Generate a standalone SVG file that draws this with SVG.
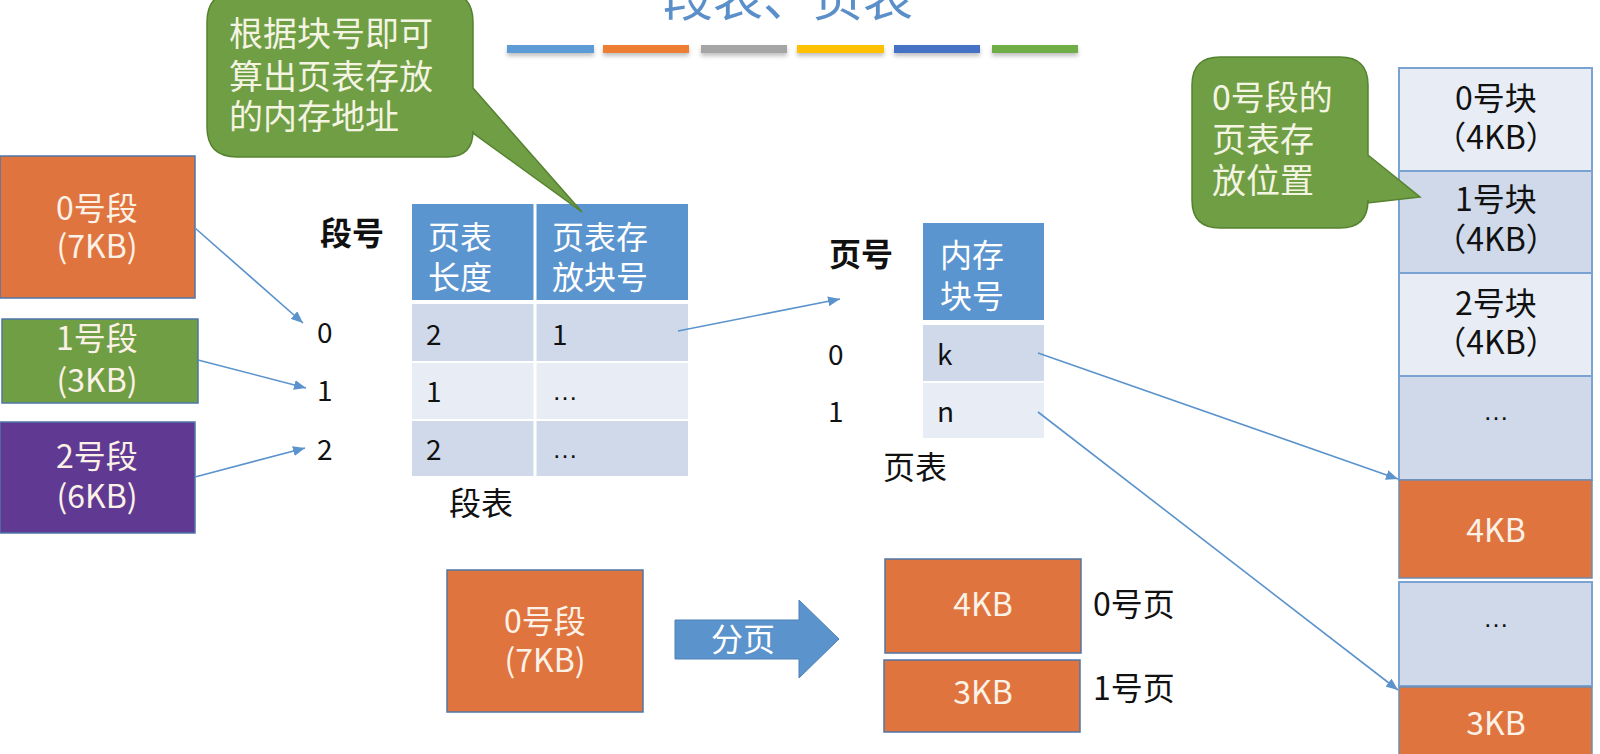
<svg xmlns="http://www.w3.org/2000/svg" width="1600" height="754" viewBox="0 0 1600 754">
<defs>
<style>
text{font-family:"Noto Sans CJK SC","Microsoft YaHei",sans-serif;}
.lbl{font-size:32px;fill:#111;}
.num{font-size:28px;fill:#111;}
.ell{font-family:"Liberation Sans",Arial,sans-serif;font-size:26px;fill:#111;}
.bold{font-size:32px;font-weight:bold;fill:#111;}
.wt{font-size:32px;fill:#FBF1E6;text-anchor:middle;}
.hd{font-size:32px;fill:#FFFFFF;}
.cl{font-size:34px;fill:#F4F4E2;}
.seg{stroke:#4F76A8;stroke-width:1.5;}
.org{fill:#E0743F;}
.hdr{fill:#5B95CF;}
.dk{fill:#CFD9EA;}
.lt{fill:#E8EDF5;}
.mem{stroke:#7AA3D4;stroke-width:2;}
.conn{stroke:#5B93CC;stroke-width:1.6;fill:none;marker-end:url(#ah);}
.bar{height:8px;}
</style>
<marker id="ah" viewBox="0 0 12 10" refX="12" refY="5" markerWidth="12" markerHeight="10" markerUnits="userSpaceOnUse" orient="auto">
<path d="M0,0 L12,5 L0,10 Z" fill="#5B93CC"/>
</marker>
<filter id="sh" x="-10%" y="-50%" width="120%" height="250%">
<feDropShadow dx="0" dy="3" stdDeviation="2" flood-color="#000" flood-opacity="0.25"/>
</filter>
</defs>
<rect width="1600" height="754" fill="#FFFFFF"/>

<g id="title">
<text x="788" y="16" font-size="50" fill="#5B8FC9" text-anchor="middle">段表、页表</text>
<g filter="url(#sh)">
<rect class="bar" x="507" y="45" width="87" fill="#5B9BD5"/>
<rect class="bar" x="603" y="45" width="86" fill="#ED7D31"/>
<rect class="bar" x="701" y="45" width="86" fill="#A5A5A5"/>
<rect class="bar" x="797" y="45" width="87" fill="#FFC000"/>
<rect class="bar" x="894" y="45" width="86" fill="#4472C4"/>
<rect class="bar" x="992" y="45" width="86" fill="#70AD47"/>
</g>
</g>

<g id="seg0">
<rect x="0" y="156" width="195" height="142" class="org seg"/>
<text class="wt" x="97" y="220">0号段</text>
<text class="wt" x="97" y="258">(7KB)</text>
</g>
<g id="seg1">
<rect x="2" y="319" width="196" height="84" fill="#6F9E44" class="seg"/>
<text class="wt" x="97" y="350">1号段</text>
<text class="wt" x="97" y="392">(3KB)</text>
</g>
<g id="seg2">
<rect x="0" y="422" width="195" height="111" fill="#603A92" class="seg"/>
<text class="wt" x="97" y="468">2号段</text>
<text class="wt" x="97" y="508">(6KB)</text>
</g>

<g id="segnum">
<text class="bold" x="320" y="245">段号</text>
<text class="num" x="317" y="343">0</text>
<text class="num" x="317" y="401">1</text>
<text class="num" x="317" y="460">2</text>
</g>

<g id="segtable">
<rect x="412" y="204" width="276" height="96" class="hdr"/>
<rect x="412" y="304" width="276" height="57" class="dk"/>
<rect x="412" y="363" width="276" height="56" class="lt"/>
<rect x="412" y="421" width="276" height="55" class="dk"/>
<line x1="535" y1="204" x2="535" y2="476" stroke="#FFFFFF" stroke-width="3"/>
<text class="hd" x="428" y="249">页表</text>
<text class="hd" x="428" y="289">长度</text>
<text class="hd" x="552" y="249">页表存</text>
<text class="hd" x="552" y="289">放块号</text>
<text class="num" x="426" y="345">2</text>
<text class="num" x="552" y="345">1</text>
<text class="num" x="426" y="402">1</text>
<text class="ell" x="552" y="400">…</text>
<text class="num" x="426" y="460">2</text>
<text class="ell" x="552" y="458">…</text>
<text class="lbl" x="449" y="515">段表</text>
</g>

<g id="pagetable">
<text class="bold" x="829" y="266">页号</text>
<rect x="923" y="223" width="121" height="97" class="hdr"/>
<rect x="923" y="325" width="121" height="56" class="dk"/>
<rect x="923" y="383" width="121" height="55" class="lt"/>
<text class="hd" x="940" y="267">内存</text>
<text class="hd" x="940" y="308">块号</text>
<text class="num" x="828" y="365">0</text>
<text class="num" x="828" y="422">1</text>
<text class="num" x="937" y="365">k</text>
<text class="num" x="937" y="422">n</text>
<text class="lbl" x="883" y="479">页表</text>
</g>

<g id="memory">
<rect x="1399" y="68" width="193" height="103" class="lt mem"/>
<rect x="1399" y="171" width="193" height="102" class="dk mem"/>
<rect x="1399" y="273" width="193" height="103" class="lt mem"/>
<rect x="1399" y="376" width="193" height="104" class="dk mem"/>
<rect x="1399" y="480" width="193" height="98" class="org" stroke="#6E8DB0" stroke-width="1.5"/>
<rect x="1399" y="582" width="193" height="104" class="dk mem"/>
<rect x="1399" y="687" width="193" height="80" class="org" stroke="#6E8DB0" stroke-width="1.5"/>
<g class="lbl" text-anchor="middle">
<text x="1496" y="110">0号块</text>
<text x="1496" y="149">（4KB）</text>
<text x="1496" y="211">1号块</text>
<text x="1496" y="251">（4KB）</text>
<text x="1496" y="315">2号块</text>
<text x="1496" y="354">（4KB）</text>
</g>
<text class="ell" x="1496" y="420" text-anchor="middle">…</text>
<text class="ell" x="1496" y="627" text-anchor="middle">…</text>
<text class="wt" x="1496" y="542">4KB</text>
<text class="wt" x="1496" y="735">3KB</text>
</g>

<g id="callout1">
<path d="M237,-8 H443 Q473,-8 473,22 V88 L582,212 L473,133 V131 Q473,157 447,157 H237 Q207,157 207,127 V22 Q207,-8 237,-8 Z" fill="#6F9E44" stroke="#56822F" stroke-width="1.5"/>
<text class="cl" x="229" y="46">根据块号即可</text>
<text class="cl" x="229" y="89">算出页表存放</text>
<text class="cl" x="229" y="129">的内存地址</text>
</g>

<g id="callout2">
<path d="M1220,57 H1340 Q1368,57 1368,85 V155 L1420,197 L1368,203 V200 Q1368,228 1340,228 H1220 Q1192,228 1192,200 V85 Q1192,57 1220,57 Z" fill="#6F9E44" stroke="#56822F" stroke-width="1.5"/>
<text class="cl" x="1212" y="110">0号段的</text>
<text class="cl" x="1212" y="152">页表存</text>
<text class="cl" x="1212" y="193">放位置</text>
</g>

<g id="split">
<rect x="447" y="570" width="196" height="142" class="org seg"/>
<text class="wt" x="545" y="633">0号段</text>
<text class="wt" x="545" y="672">(7KB)</text>
<path d="M675,620 H799 V600 L839,639 L799,678 V659 H675 Z" fill="#5B93CC" stroke="#4F80B5" stroke-width="1"/>
<text x="711" y="651" font-size="32" fill="#FFFFFF">分页</text>
<rect x="885" y="559" width="196" height="94" class="org seg"/>
<text class="wt" x="983" y="616">4KB</text>
<rect x="884" y="660" width="196" height="72" class="org seg"/>
<text class="wt" x="983" y="704">3KB</text>
<text class="lbl" x="1093" y="616">0号页</text>
<text class="lbl" x="1093" y="700">1号页</text>
</g>

<g id="connectors">
<line class="conn" x1="195" y1="228" x2="303" y2="323"/>
<line class="conn" x1="198" y1="360" x2="306" y2="388"/>
<line class="conn" x1="195" y1="477" x2="305" y2="448"/>
<line class="conn" x1="678" y1="331" x2="840" y2="299"/>
<line class="conn" x1="1038" y1="353" x2="1398" y2="479"/>
<line class="conn" x1="1038" y1="412" x2="1398" y2="690"/>
</g>
</svg>
